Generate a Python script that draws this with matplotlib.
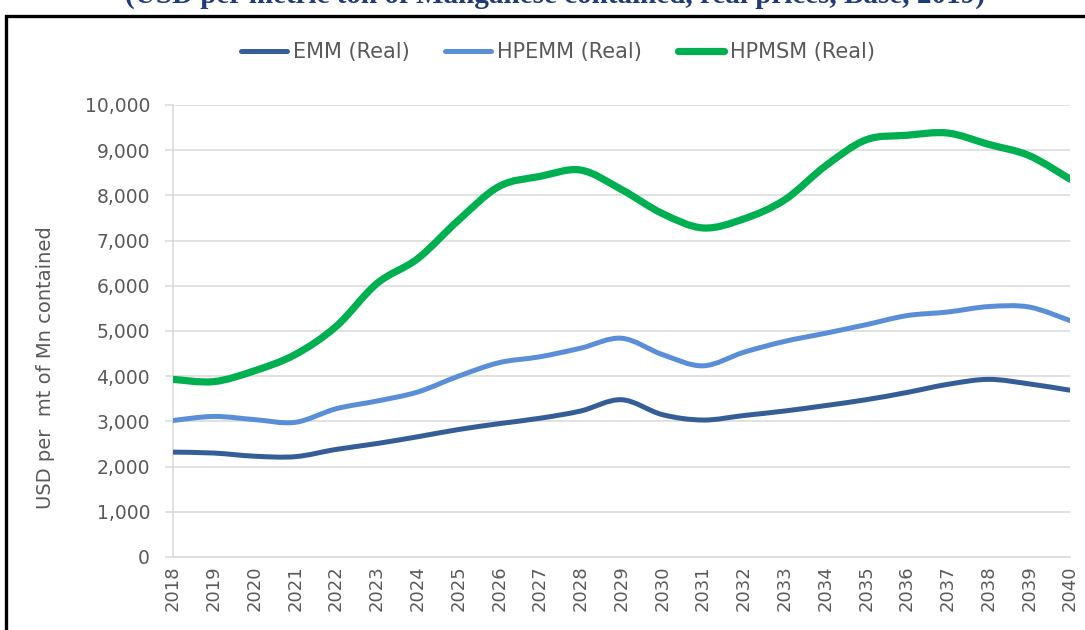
import numpy as np
import matplotlib
matplotlib.use("Agg")
import matplotlib.pyplot as plt
from matplotlib.path import Path
from matplotlib.patches import PathPatch, Rectangle
from matplotlib.lines import Line2D
from matplotlib.ticker import FuncFormatter

years = list(range(2018, 2041))
emm = [2320, 2300, 2230, 2220, 2380, 2510, 2660, 2820, 2950, 3070, 3230, 3480,
       3150, 3030, 3130, 3230, 3350, 3480, 3640, 3820, 3930, 3830, 3690]
hpemm = [3020, 3110, 3040, 2980, 3280, 3450, 3650, 4000, 4300, 4430, 4620, 4840,
         4480, 4230, 4530, 4770, 4950, 5140, 5340, 5420, 5540, 5530, 5230]
hpmsm = [3930, 3880, 4120, 4480, 5100, 6050, 6600, 7450, 8200, 8420, 8560, 8130,
         7600, 7280, 7480, 7900, 8650, 9230, 9330, 9380, 9130, 8880, 8360]

series = [
    ("EMM (Real)", emm, "#355E96", 3.6),
    ("HPEMM (Real)", hpemm, "#5A8FD7", 3.6),
    ("HPMSM (Real)", hpmsm, "#00B050", 5.2),
]
text_gray = "#595959"
grid_gray = "#D9D9D9"


def smooth_path(x, y):
    # excel-style smoothed line: cubic bezier through every point
    p = np.column_stack([x, y]).astype(float)
    ext = np.vstack([p[0], p, p[-1]])
    verts = [p[0]]
    codes = [Path.MOVETO]
    for i in range(len(p) - 1):
        a, b, c, d = ext[i], ext[i + 1], ext[i + 2], ext[i + 3]
        c1 = b + (c - a) / 6.0
        c2 = c - (d - b) / 6.0
        verts += [c1, c2, c]
        codes += [Path.CURVE4] * 3
    return Path(verts, codes)


fig = plt.figure(figsize=(10.85, 6.3), dpi=100)
ax = fig.add_axes([173 / 1085, 1 - 557 / 630, (1070 - 173) / 1085, (557 - 105) / 630])

handles = []
for name, vals, color, lw in series:
    patch = PathPatch(smooth_path(years, vals), fill=False, edgecolor=color,
                      linewidth=lw, capstyle="round", joinstyle="round", zorder=3)
    ax.add_patch(patch)
    handles.append(Line2D([], [], color=color, linewidth=lw, solid_capstyle="round"))

ax.set_xlim(2018, 2040)
ax.set_ylim(0, 10000)
ax.set_xticks(years)
ax.set_xticklabels([str(y) for y in years], rotation=90, fontsize=13,
                   color=text_gray)
ax.set_yticks(range(0, 10001, 1000))
ax.yaxis.set_major_formatter(FuncFormatter(lambda v, _: f"{int(v):,}"))
ax.tick_params(axis="y", labelsize=13.5, labelcolor=text_gray, length=5.5,
               color=grid_gray, width=1.1, pad=11)
ax.tick_params(axis="x", length=0, pad=6)
ax.grid(axis="y", color=grid_gray, linewidth=1.1)
ax.set_axisbelow(True)
for side in ["top", "right"]:
    ax.spines[side].set_visible(False)
for side in ["left", "bottom"]:
    ax.spines[side].set_color(grid_gray)
    ax.spines[side].set_linewidth(1.1)

ax.set_ylabel("USD per  mt of Mn contained", fontsize=14, color=text_gray)
ax.yaxis.set_label_coords(-0.132, 0.418)

fig.legend(handles, [s[0] for s in series], loc="center",
           bbox_to_anchor=(558 / 1085, 1 - 52 / 630), ncol=3, frameon=False,
           fontsize=15, labelcolor=text_gray, handlelength=2.2,
           handletextpad=0.3, columnspacing=1.7)

# black frame around the chart, running off the right and bottom edges
fig.patches.append(Rectangle((5.5 / 1085, -0.2), 1.2, 1.2 - 15.5 / 630,
                             transform=fig.transFigure, fill=False,
                             edgecolor="black", linewidth=2.4))

fig.text(555 / 1085, 1 - 3 / 630,
         "(USD per metric ton of Manganese contained, real prices, Base, 2019)",
         ha="center", va="baseline", fontsize=21, fontweight="bold",
         family="Liberation Serif", color="#1F3B7A")

fig.savefig("out.png", dpi=100)
